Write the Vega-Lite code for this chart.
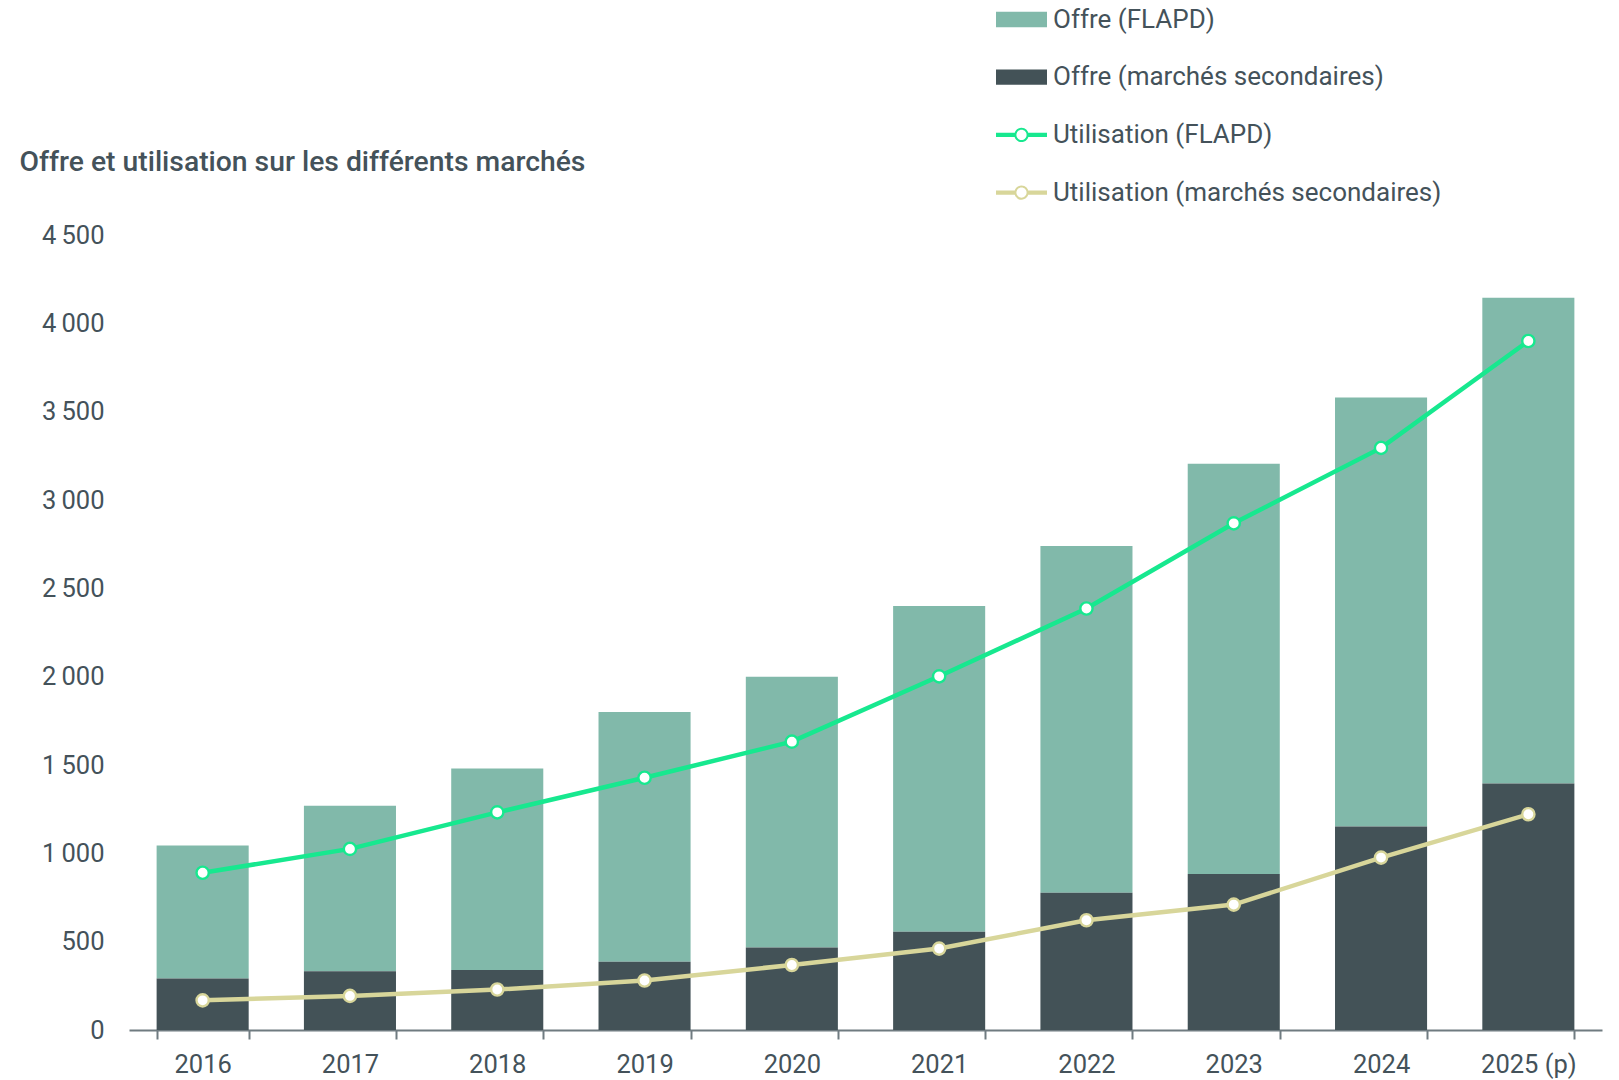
{
  "$schema": "https://vega.github.io/schema/vega-lite/v6.json",
  "autosize": {"type": "none"},
  "width": 1473,
  "height": 795,
  "padding": {"left": 129, "top": 235, "right": 17, "bottom": 50},
  "background": "white",
  "config": {
    "view": {"stroke": null},
    "font": "Roboto",
    "axis": {"labelFont": "Roboto", "titleFont": "Roboto"}
  },
  "data": {
    "values": [
      {"year": "2016", "series": "Offre (FLAPD)", "kind": "offre", "value": 753},
      {"year": "2017", "series": "Offre (FLAPD)", "kind": "offre", "value": 938},
      {"year": "2018", "series": "Offre (FLAPD)", "kind": "offre", "value": 1141},
      {"year": "2019", "series": "Offre (FLAPD)", "kind": "offre", "value": 1414},
      {"year": "2020", "series": "Offre (FLAPD)", "kind": "offre", "value": 1533},
      {"year": "2021", "series": "Offre (FLAPD)", "kind": "offre", "value": 1844},
      {"year": "2022", "series": "Offre (FLAPD)", "kind": "offre", "value": 1963},
      {"year": "2023", "series": "Offre (FLAPD)", "kind": "offre", "value": 2322},
      {"year": "2024", "series": "Offre (FLAPD)", "kind": "offre", "value": 2428},
      {"year": "2025 (p)", "series": "Offre (FLAPD)", "kind": "offre", "value": 2750},
      {"year": "2016", "series": "Offre (marchés secondaires)", "kind": "offre", "value": 292},
      {"year": "2017", "series": "Offre (marchés secondaires)", "kind": "offre", "value": 332},
      {"year": "2018", "series": "Offre (marchés secondaires)", "kind": "offre", "value": 339},
      {"year": "2019", "series": "Offre (marchés secondaires)", "kind": "offre", "value": 386},
      {"year": "2020", "series": "Offre (marchés secondaires)", "kind": "offre", "value": 467},
      {"year": "2021", "series": "Offre (marchés secondaires)", "kind": "offre", "value": 556},
      {"year": "2022", "series": "Offre (marchés secondaires)", "kind": "offre", "value": 777},
      {"year": "2023", "series": "Offre (marchés secondaires)", "kind": "offre", "value": 883},
      {"year": "2024", "series": "Offre (marchés secondaires)", "kind": "offre", "value": 1152},
      {"year": "2025 (p)", "series": "Offre (marchés secondaires)", "kind": "offre", "value": 1395},
      {"year": "2016", "series": "Utilisation (FLAPD)", "kind": "util", "value": 890},
      {"year": "2017", "series": "Utilisation (FLAPD)", "kind": "util", "value": 1025},
      {"year": "2018", "series": "Utilisation (FLAPD)", "kind": "util", "value": 1232},
      {"year": "2019", "series": "Utilisation (FLAPD)", "kind": "util", "value": 1428},
      {"year": "2020", "series": "Utilisation (FLAPD)", "kind": "util", "value": 1632},
      {"year": "2021", "series": "Utilisation (FLAPD)", "kind": "util", "value": 2002},
      {"year": "2022", "series": "Utilisation (FLAPD)", "kind": "util", "value": 2386},
      {"year": "2023", "series": "Utilisation (FLAPD)", "kind": "util", "value": 2868},
      {"year": "2024", "series": "Utilisation (FLAPD)", "kind": "util", "value": 3295},
      {"year": "2025 (p)", "series": "Utilisation (FLAPD)", "kind": "util", "value": 3900},
      {"year": "2016", "series": "Utilisation (marchés secondaires)", "kind": "util", "value": 168},
      {"year": "2017", "series": "Utilisation (marchés secondaires)", "kind": "util", "value": 193},
      {"year": "2018", "series": "Utilisation (marchés secondaires)", "kind": "util", "value": 229},
      {"year": "2019", "series": "Utilisation (marchés secondaires)", "kind": "util", "value": 280},
      {"year": "2020", "series": "Utilisation (marchés secondaires)", "kind": "util", "value": 368},
      {"year": "2021", "series": "Utilisation (marchés secondaires)", "kind": "util", "value": 461},
      {"year": "2022", "series": "Utilisation (marchés secondaires)", "kind": "util", "value": 621},
      {"year": "2023", "series": "Utilisation (marchés secondaires)", "kind": "util", "value": 710},
      {"year": "2024", "series": "Utilisation (marchés secondaires)", "kind": "util", "value": 976},
      {"year": "2025 (p)", "series": "Utilisation (marchés secondaires)", "kind": "util", "value": 1221}
    ]
  },
  "encoding": {
    "x": {
      "field": "year", "type": "nominal", "sort": null,
      "scale": {"paddingInner": 0.375, "paddingOuter": 0.1875},
      "axis": {
        "title": null, "labelAngle": 0, "labelFontSize": 25.5, "labelColor": "#44525a",
        "labelPadding": 13, "domainColor": "#6f7b80", "domainWidth": 2,
        "tickColor": "#6f7b80", "tickWidth": 2, "tickSize": 9, "tickBand": "extent", "grid": false
      }
    },
    "y": {
      "field": "value", "type": "quantitative",
      "scale": {"domain": [0, 4500], "nice": false},
      "axis": {
        "values": [0, 500, 1000, 1500, 2000, 2500, 3000, 3500, 4000, 4500],
        "labelExpr": "replace(format(datum.value, ','), ',', '\u2009')",
        "labelFontSize": 25.5, "labelColor": "#44525a", "labelPadding": 25,
        "domain": false, "ticks": false, "grid": false,
        "title": "Offre et utilisation sur les différents marchés",
        "titleAngle": 0, "titleAlign": "left", "titleBaseline": "middle",
        "titleX": -110, "titleY": -73, "titleFontSize": 28.3, "titleFontWeight": 500, "titleColor": "#44525a"
      }
    },
    "color": {
      "field": "series", "type": "nominal",
      "scale": {
        "domain": ["Offre (FLAPD)", "Offre (marchés secondaires)", "Utilisation (FLAPD)", "Utilisation (marchés secondaires)"],
        "range": ["#81b9aa", "#435257", "#17e88f", "#d8d69a"]
      },
      "legend": {
        "title": null, "orient": "none", "legendX": 867, "legendY": -241, "padding": 0,
        "symbolSize": 2601, "symbolStrokeWidth": 0, "labelOffset": 6, "rowPadding": 18.7,
        "labelFontSize": 26, "labelColor": "#44525a", "labelFont": "Roboto", "labelLimit": 800,
        "encode": {
          "symbols": {
            "update": {
              "shape": {"signal": "indexof(datum.value, 'Utilisation') === 0 ? 'M-1,-0.085H-0.27V0.085H-1Z M0.27,-0.085H1V0.085H0.27Z M0.28,0A0.28,0.28,0,1,1,-0.28,0A0.28,0.28,0,1,1,0.28,0Z M0.2,0A0.2,0.2,0,1,0,-0.2,0A0.2,0.2,0,1,0,0.2,0Z' : 'M-1,-0.3H1V0.3H-1Z'"},
              "fill": {"signal": "scale('color', datum.value)"},
              "fillOpacity": {"value": 1},
              "opacity": {"value": 1},
              "stroke": {"value": "transparent"},
              "strokeWidth": {"value": 0}
            }
          }
        }
      }
    }
  },
  "layer": [
    {
      "transform": [{"filter": "datum.kind === 'offre'"}],
      "mark": {"type": "bar"},
      "encoding": {
        "order": {"field": "series", "sort": "descending"}
      }
    },
    {
      "transform": [{"filter": "datum.kind === 'util'"}],
      "mark": {"type": "line", "strokeWidth": 4.5},
      "encoding": {}
    },
    {
      "transform": [{"filter": "datum.kind === 'util'"}],
      "mark": {"type": "point", "shape": "circle", "filled": false, "fill": "white", "fillOpacity": 1, "opacity": 1, "size": 150, "strokeWidth": 2.4},
      "encoding": {}
    }
  ]
}
